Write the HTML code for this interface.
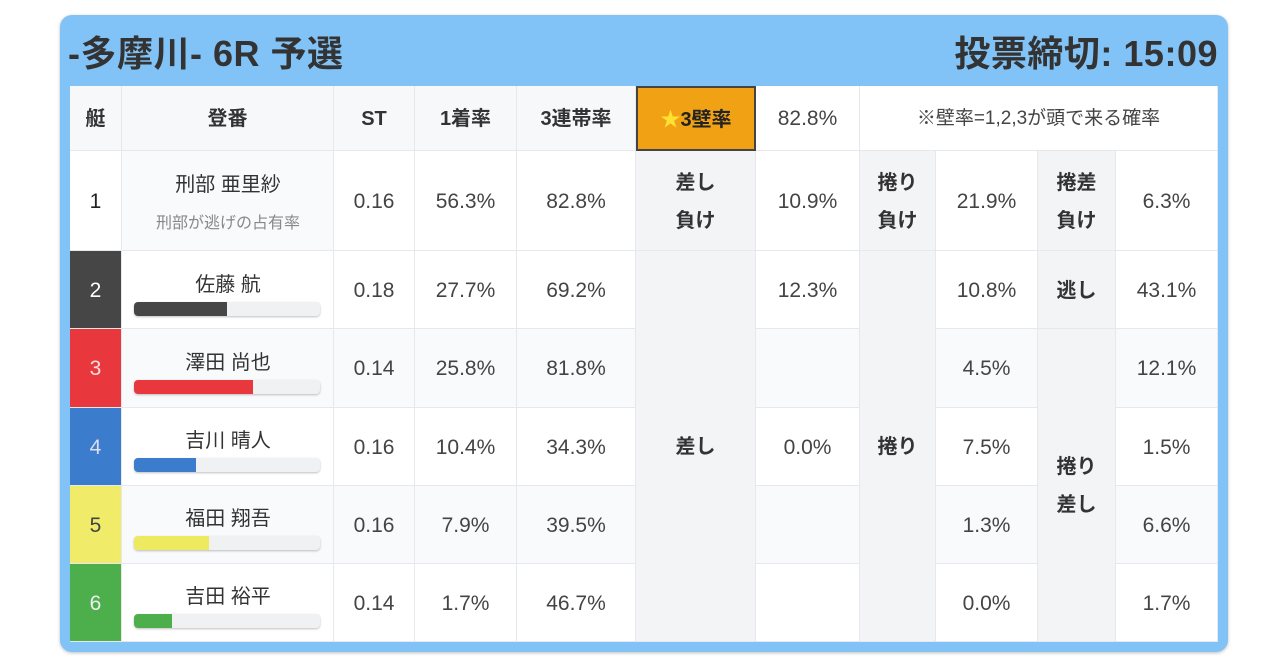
<!DOCTYPE html>
<html><head><meta charset="utf-8"><style>
body{margin:0;width:1280px;height:670px;background:#fff;font-family:"Liberation Sans","Noto Sans CJK JP",sans-serif;position:relative;overflow:hidden}
.box{position:absolute;left:60px;top:15px;width:1168px;height:637px;background:#82c3f7;border-radius:12px;box-shadow:0 1px 3px rgba(0,0,0,.25)}
.t{position:absolute;top:33px;font-size:36px;font-weight:bold;color:#333;line-height:42px;letter-spacing:0.5px}
.c{position:absolute;box-sizing:border-box;display:flex;align-items:center;justify-content:center;text-align:center;color:#444;font-size:21px;border-right:1px solid #e6e8eb;border-bottom:1px solid #e6e8eb;line-height:38px;padding-top:2px}
.h{background:#f7f8fa;font-weight:bold;color:#333;font-size:20px}
.g{background:#f3f4f6;font-weight:bold;color:#333;font-size:20px}
.w{background:#fff}.l{background:#f9fafb}
.bar{position:absolute;left:134px;width:186px;height:14px;background:#f0f1f3;border-radius:4px;box-shadow:0 1px 2px rgba(0,0,0,.25);overflow:hidden}
.bar i{display:block;height:100%}
.nm{position:absolute;left:122px;width:212px;text-align:center;font-size:20px;color:#333}
</style></head><body>
<div class="box"></div>
<div class="t" style="left:68px">-多摩川- 6R 予選</div>
<div class="t" style="right:62px">投票締切: 15:09</div>

<div class="c h" style="left:70px;top:86px;width:52px;height:65px">艇</div>
<div class="c h" style="left:122px;top:86px;width:212px;height:65px">登番</div>
<div class="c h" style="left:334px;top:86px;width:81px;height:65px">ST</div>
<div class="c h" style="left:415px;top:86px;width:102px;height:65px">1着率</div>
<div class="c h" style="left:517px;top:86px;width:119px;height:65px">3連帯率</div>
<div class="c" style="left:636px;top:86px;width:120px;height:65px;background:#f0a214;border:2px solid #444;font-weight:bold;color:#222;font-size:20px"><span style="color:#ffe033">★</span>3壁率</div>
<div class="c w" style="left:756px;top:86px;width:104px;height:65px">82.8%</div>
<div class="c w" style="left:860px;top:86px;width:358px;height:65px;font-size:19px">※壁率=1,2,3が頭で来る確率</div>

<div class="c w" style="left:70px;top:151px;width:52px;height:100px;color:#222">1</div>
<div class="c" style="left:70px;top:251px;width:52px;height:78px;background:#464646;color:#fff">2</div>
<div class="c" style="left:70px;top:329px;width:52px;height:79px;background:#e8383d;color:#fdd">3</div>
<div class="c" style="left:70px;top:408px;width:52px;height:78px;background:#3b7ccc;color:#dde">4</div>
<div class="c" style="left:70px;top:486px;width:52px;height:78px;background:#f0ec6a;color:#444">5</div>
<div class="c" style="left:70px;top:564px;width:52px;height:78px;background:#4caf4c;color:#eee">6</div>

<div class="c l" style="left:122px;top:151px;width:212px;height:100px"></div>
<div class="c w" style="left:122px;top:251px;width:212px;height:78px"></div>
<div class="c l" style="left:122px;top:329px;width:212px;height:79px"></div>
<div class="c w" style="left:122px;top:408px;width:212px;height:78px"></div>
<div class="c l" style="left:122px;top:486px;width:212px;height:78px"></div>
<div class="c w" style="left:122px;top:564px;width:212px;height:78px"></div>
<div class="nm" style="top:168px">刑部 亜里紗</div>
<div class="nm" style="top:209px;font-size:16px;color:#888">刑部が逃げの占有率</div>
<div class="nm" style="top:268px">佐藤 航</div>
<div class="bar" style="top:302px"><i style="width:93px;background:#464646"></i></div>
<div class="nm" style="top:346px">澤田 尚也</div>
<div class="bar" style="top:380px"><i style="width:119px;background:#e8383d"></i></div>
<div class="nm" style="top:424px">吉川 晴人</div>
<div class="bar" style="top:458px"><i style="width:62px;background:#3b7ccc"></i></div>
<div class="nm" style="top:502px">福田 翔吾</div>
<div class="bar" style="top:536px"><i style="width:75px;background:#eeea60"></i></div>
<div class="nm" style="top:580px">吉田 裕平</div>
<div class="bar" style="top:614px"><i style="width:38px;background:#4caf4c"></i></div>

<div class="c w" style="left:334px;top:151px;width:81px;height:100px">0.16</div>
<div class="c w" style="left:415px;top:151px;width:102px;height:100px">56.3%</div>
<div class="c w" style="left:517px;top:151px;width:119px;height:100px">82.8%</div>
<div class="c g" style="left:636px;top:151px;width:120px;height:100px">差し<br>負け</div>
<div class="c w" style="left:756px;top:151px;width:104px;height:100px">10.9%</div>
<div class="c g" style="left:860px;top:151px;width:76px;height:100px">捲り<br>負け</div>
<div class="c w" style="left:936px;top:151px;width:102px;height:100px">21.9%</div>
<div class="c g" style="left:1038px;top:151px;width:78px;height:100px">捲差<br>負け</div>
<div class="c w" style="left:1116px;top:151px;width:102px;height:100px">6.3%</div>

<div class="c w" style="left:334px;top:251px;width:81px;height:78px">0.18</div>
<div class="c w" style="left:415px;top:251px;width:102px;height:78px">27.7%</div>
<div class="c w" style="left:517px;top:251px;width:119px;height:78px">69.2%</div>
<div class="c l" style="left:334px;top:329px;width:81px;height:79px">0.14</div>
<div class="c l" style="left:415px;top:329px;width:102px;height:79px">25.8%</div>
<div class="c l" style="left:517px;top:329px;width:119px;height:79px">81.8%</div>
<div class="c w" style="left:334px;top:408px;width:81px;height:78px">0.16</div>
<div class="c w" style="left:415px;top:408px;width:102px;height:78px">10.4%</div>
<div class="c w" style="left:517px;top:408px;width:119px;height:78px">34.3%</div>
<div class="c l" style="left:334px;top:486px;width:81px;height:78px">0.16</div>
<div class="c l" style="left:415px;top:486px;width:102px;height:78px">7.9%</div>
<div class="c l" style="left:517px;top:486px;width:119px;height:78px">39.5%</div>
<div class="c w" style="left:334px;top:564px;width:81px;height:78px">0.14</div>
<div class="c w" style="left:415px;top:564px;width:102px;height:78px">1.7%</div>
<div class="c w" style="left:517px;top:564px;width:119px;height:78px">46.7%</div>

<div class="c g" style="left:636px;top:251px;width:120px;height:391px">差し</div>
<div class="c w" style="left:756px;top:251px;width:104px;height:78px">12.3%</div>
<div class="c l" style="left:756px;top:329px;width:104px;height:79px"></div>
<div class="c w" style="left:756px;top:408px;width:104px;height:78px">0.0%</div>
<div class="c l" style="left:756px;top:486px;width:104px;height:78px"></div>
<div class="c w" style="left:756px;top:564px;width:104px;height:78px"></div>
<div class="c g" style="left:860px;top:251px;width:76px;height:391px">捲り</div>
<div class="c w" style="left:936px;top:251px;width:102px;height:78px">10.8%</div>
<div class="c l" style="left:936px;top:329px;width:102px;height:79px">4.5%</div>
<div class="c w" style="left:936px;top:408px;width:102px;height:78px">7.5%</div>
<div class="c l" style="left:936px;top:486px;width:102px;height:78px">1.3%</div>
<div class="c w" style="left:936px;top:564px;width:102px;height:78px">0.0%</div>
<div class="c g" style="left:1038px;top:251px;width:78px;height:78px">逃し</div>
<div class="c g" style="left:1038px;top:329px;width:78px;height:313px">捲り<br>差し</div>
<div class="c w" style="left:1116px;top:251px;width:102px;height:78px">43.1%</div>
<div class="c l" style="left:1116px;top:329px;width:102px;height:79px">12.1%</div>
<div class="c w" style="left:1116px;top:408px;width:102px;height:78px">1.5%</div>
<div class="c l" style="left:1116px;top:486px;width:102px;height:78px">6.6%</div>
<div class="c w" style="left:1116px;top:564px;width:102px;height:78px">1.7%</div>
</body></html>
